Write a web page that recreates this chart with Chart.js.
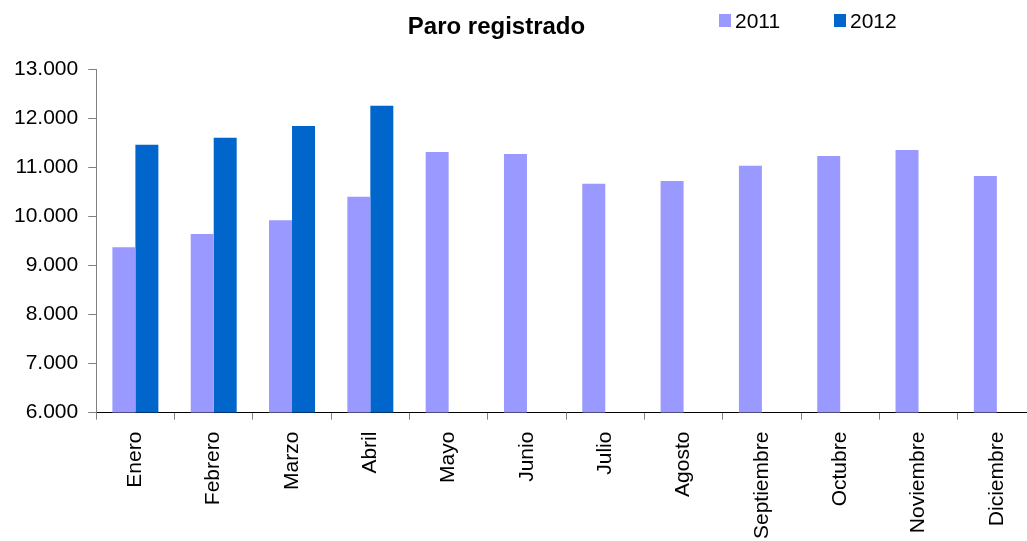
<!DOCTYPE html>
<html>
<head>
<meta charset="utf-8">
<script src="https://cdn.jsdelivr.net/npm/chart.js@4/dist/chart.umd.min.js"></script>
<style>
  html, body { margin: 0; padding: 0; background: #fff; overflow: hidden; }
  #wrap { position: relative; width: 1040px; height: 555px; }
</style>
</head>
<body>
<div id="wrap"><canvas id="c"></canvas></div>
<script>
const chartTitle = "Paro registrado";
const months = ["Enero","Febrero","Marzo","Abril","Mayo","Junio","Julio","Agosto","Septiembre","Octubre","Noviembre","Diciembre"];
const seriesNames = ["2011", "2012"];
const values2011 = [9370, 9640, 9920, 10400, 11310, 11270, 10660, 10720, 11030, 11230, 11350, 10820];
const values2012 = [11455, 11600, 11840, 12250, null, null, null, null, null, null, null, null];
const seriesColors = ["#9999FF", "#0066CC"];
const yMin = 6000, yMax = 13000, yStep = 1000;

const FONT = "'Liberation Sans', Arial, sans-serif";

const headerPlugin = {
  id: 'header',
  afterDraw(chart) {
    const ctx = chart.ctx;
    ctx.save();
    ctx.fillStyle = '#000';
    ctx.font = "bold 24px " + FONT;
    ctx.textAlign = 'center';
    ctx.textBaseline = 'alphabetic';
    ctx.fillText(chartTitle, 496.5, 34);
    const legendX = [719, 834];
    ctx.font = "21px " + FONT;
    ctx.textAlign = 'left';
    chart.data.datasets.forEach((ds, i) => {
      ctx.fillStyle = ds.backgroundColor;
      ctx.fillRect(legendX[i], 14, 12, 13);
      ctx.fillStyle = '#000';
      ctx.fillText(ds.label, legendX[i] + 16, 28);
    });
    ctx.restore();
  }
};

new Chart(document.getElementById('c'), {
  type: 'bar',
  data: {
    labels: months,
    datasets: [
      { label: seriesNames[0], data: values2011, backgroundColor: seriesColors[0] },
      { label: seriesNames[1], data: values2012, backgroundColor: seriesColors[1] }
    ]
  },
  options: {
    responsive: true,
    maintainAspectRatio: false,
    animation: false,
    datasets: { bar: { categoryPercentage: 0.587, barPercentage: 1.0 } },
    layout: { padding: { top: 69, left: 4, right: 4, bottom: 4 } },
    plugins: {
      legend: { display: false },
      title: { display: false },
      tooltip: { enabled: false }
    },
    scales: {
      x: {
        grid: { display: true, drawOnChartArea: false, drawTicks: true, tickLength: 7, tickColor: '#808080', offset: true },
        border: { display: true, color: '#000', width: 1 },
        ticks: { color: '#000', font: { family: FONT, size: 21 }, minRotation: 90, maxRotation: 90, padding: 12, autoSkip: false }
      },
      y: {
        min: yMin, max: yMax,
        grid: { display: true, drawOnChartArea: false, drawTicks: true, tickLength: 8, tickColor: '#808080' },
        border: { display: true, color: '#808080', width: 1 },
        ticks: {
          stepSize: yStep, color: '#000', font: { family: FONT, size: 21 }, padding: 10,
          callback: v => (v / 1000).toFixed(3)
        }
      }
    }
  },
  plugins: [headerPlugin]
});
</script>
</body>
</html>
